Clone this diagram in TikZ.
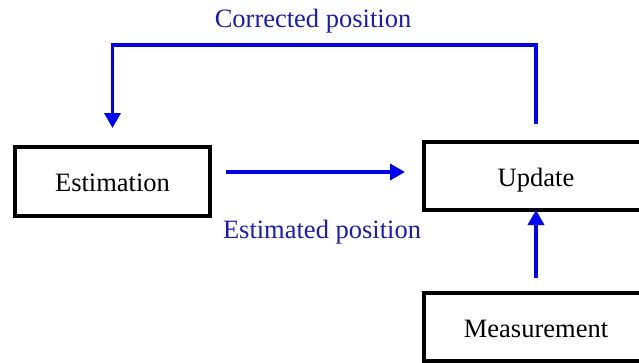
\documentclass[tikz,border=0pt]{standalone}
\usepackage{fontspec}
\setmainfont{Liberation Serif}
\usetikzlibrary{arrows.meta,calc}
\definecolor{lblblue}{RGB}{25,25,200}
\definecolor{arrblue}{RGB}{0,0,255}
\tikzset{
  box/.style={draw=black, line width=4pt, inner sep=0pt, text height=24pt, text depth=4pt, font=\fontsize{26.5}{30}\selectfont},
  arr/.style={draw=arrblue, line width=3.5pt, -{Triangle[length=15pt,width=16pt]}},
  lbl/.style={text=lblblue, inner sep=0pt, anchor=base, font=\fontsize{26.5}{30}\selectfont}
}
\begin{document}
\begin{tikzpicture}[x=1pt,y=-1pt]
\useasboundingbox (0,0) rectangle (639,362);
\clip (0,0) rectangle (639,362);
\node[box, minimum width=195pt, minimum height=69pt] (est) at (112.5,181.5) {Estimation};
\node[box, minimum width=224pt, minimum height=68pt] (upd) at (536,176) {Update};
\node[box, minimum width=224pt, minimum height=68pt] (mea) at (536,327) {Measurement};
\node[lbl] (lc) at (313,27) {Corrected position};
\node[lbl] (le) at (322,238.5) {Estimated position};
% estimation -> update
\draw[arr] ([shift={(14,-9.5)}]est.east) -- ([shift={(-17,-4)}]upd.west);
% measurement -> update
\draw[arr] ([shift={(0,-13)}]mea.north) -- ([shift={(0,-2)}]upd.south);
% feedback
\coordinate (tr) at (536,45);
\coordinate (tl) at (112.5,45);
\draw[arr] ([shift={(0,-16)}]upd.north) -- (tr) -- (tl) -- ([shift={(0,-17)}]est.north);
\end{tikzpicture}
\end{document}
